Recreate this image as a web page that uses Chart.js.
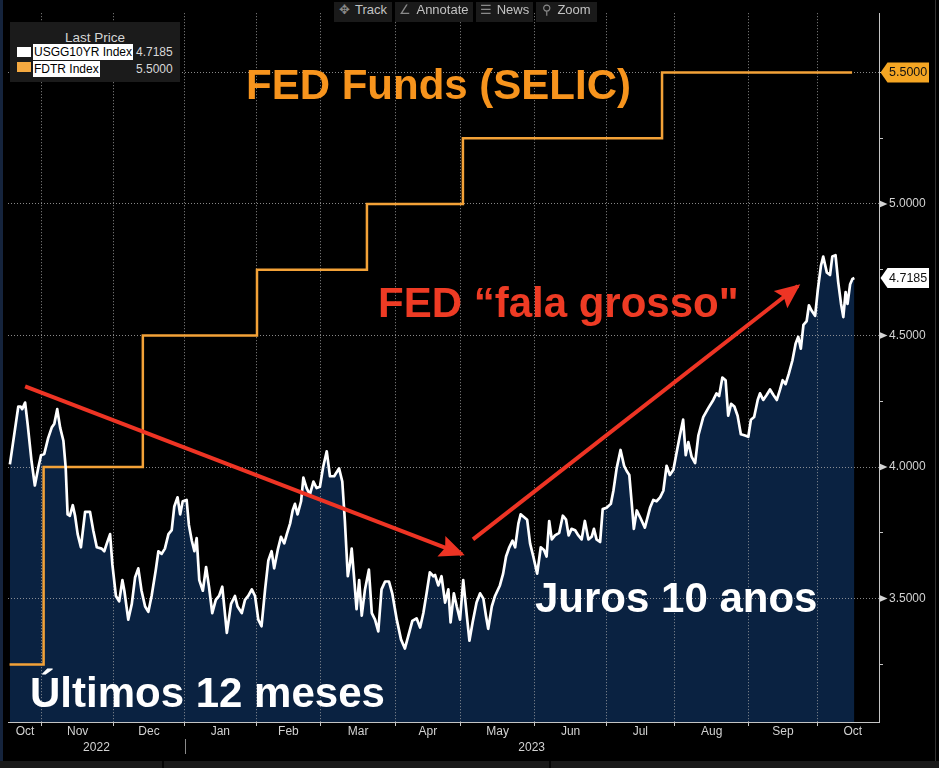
<!DOCTYPE html>
<html>
<head>
<meta charset="utf-8">
<script src="https://cdn.jsdelivr.net/npm/chart.js@4/dist/chart.umd.min.js"></script>
<style>
html,body{margin:0;padding:0;background:#000;width:939px;height:768px;overflow:hidden;}
#wrap{position:relative;width:939px;height:768px;background:#000;}
#c{position:absolute;left:0;top:0;width:939px;height:768px;}
.ann{position:absolute;font-family:"Liberation Sans",Arial,Helvetica,sans-serif;font-weight:bold;font-size:42px;line-height:42px;white-space:nowrap;}
.tb{position:absolute;top:2px;height:20px;line-height:20px;background:#1a1a1a;color:#c2c2c2;font:13px "Liberation Sans",Arial,sans-serif;text-align:center;white-space:nowrap;}
.tb i{font-style:normal;color:#8a8a8a;margin-right:5px;}
#legend{position:absolute;left:10px;top:22px;width:170px;height:60px;background:#1b1b1b;font-family:"Liberation Sans",Arial,sans-serif;}
#legend .t{position:absolute;left:0;width:170px;top:8px;text-align:center;font-size:13.5px;color:#d6d6d6;line-height:16px;}
#legend .sq{position:absolute;left:7px;width:14px;height:10px;}
#legend .lb{position:absolute;left:23px;height:16px;line-height:16px;background:#fff;color:#000;font-size:12px;padding:0 1px;}
#legend .v{position:absolute;left:126px;height:16px;line-height:16px;color:#d8d8d8;font-size:12px;}
</style>
</head>
<body>
<div id="wrap">
<canvas id="c" width="939" height="768"></canvas>

<div style="position:absolute;left:0;top:0;width:3px;height:768px;background:#15243d;"></div>
<div style="position:absolute;left:935px;top:0;width:1px;height:761px;background:#333;"></div>
<div style="position:absolute;left:0;top:761px;width:939px;height:7px;background:#1a1a1a;"></div>
<div style="position:absolute;left:162px;top:761px;width:2px;height:7px;background:#050505;"></div>
<div style="position:absolute;left:549px;top:761px;width:2px;height:7px;background:#050505;"></div>

<div class="tb" style="left:334px;width:58px;"><i>✥</i>Track</div>
<div class="tb" style="left:395px;width:78px;"><i>∠</i>Annotate</div>
<div class="tb" style="left:476px;width:57px;"><i>☰</i>News</div>
<div class="tb" style="left:536px;width:61px;"><i>⚲</i>Zoom</div>

<div id="legend">
  <div class="t">Last Price</div>
  <div class="sq" style="top:25px;background:#ffffff;"></div>
  <div class="lb" style="top:22px;">USGG10YR Index</div>
  <div class="v" style="top:22px;">4.7185</div>
  <div class="sq" style="top:40px;background:#f5a940;"></div>
  <div class="lb" style="top:39px;">FDTR Index</div>
  <div class="v" style="top:39px;">5.5000</div>
</div>

<div class="ann" style="left:246px;top:64px;color:#f7941d;">FED Funds (SELIC)</div>
<div class="ann" style="left:378px;top:282px;color:#ee3b24;">FED “fala grosso"</div>
<div class="ann" style="left:535px;top:577px;color:#ffffff;">Juros 10 anos</div>
<div class="ann" style="left:30px;top:672px;color:#ffffff;">Últimos 12 meses</div>
</div>

<script>
// ---- data (x = trading-day index, 0 = 18 Oct 2022) ----
const usDays = [
  0.1,2.7,3.4,3.9,4.8,5.6,6.8,7.8,8.9,9.7,
  10.7,11.9,13.0,13.8,14.7,15.6,16.6,17.3,17.9,18.6,
  19.5,20.2,21.0,22.0,23.3,24.8,25.8,26.9,28.4,29.2,
  30.0,31.0,31.7,32.8,33.8,34.8,35.4,36.6,37.7,38.7,
  39.7,40.7,41.8,42.8,43.8,45.1,45.9,46.9,47.9,49.0,
  50.0,50.8,51.8,52.6,53.4,54.6,55.3,56.2,57.0,57.7,
  58.5,59.6,60.6,61.5,62.5,63.6,64.6,65.6,67.0,68.3,
  69.5,70.3,71.6,72.6,73.6,74.7,75.7,76.7,77.7,78.8,
  79.8,80.8,81.6,82.7,83.7,84.7,85.5,86.5,87.3,88.0,
  88.8,89.9,90.6,91.6,92.6,93.7,94.7,95.7,96.7,97.8,
  98.8,100.1,101.6,102.6,103.4,104.3,105.0,105.5,106.3,107.0,
  107.8,108.6,109.6,110.8,111.7,112.7,113.7,114.7,115.8,117.0,
  118.0,119.4,120.7,121.9,123.0,124.2,125.5,126.6,127.6,128.6,
  129.6,130.7,131.2,132.2,133.2,134.3,135.3,136.0,137.0,137.9,
  138.9,139.9,141.0,141.8,142.8,144.0,145.1,146.1,146.9,147.6,
  148.7,149.7,151.2,152.2,153.1,154.1,155.1,155.9,156.9,157.6,
  158.6,159.6,160.5,161.5,162.7,163.8,164.8,165.6,166.4,167.2,
  168.2,169.5,170.6,171.6,172.4,173.3,174.4,175.4,176.4,177.4,
  178.5,179.5,180.2,181.0,182.1,182.9,184.1,185.4,186.2,187.2,
  188.4,189.5,190.3,191.1,191.8,192.5,193.4,194.4,195.9,197.5,
  198.5,199.5,200.6,201.6,202.6,203.6,204.7,205.7,206.7,207.7,
  208.5,209.3,210.3,211.4,212.4,213.9,215.5,217.0,218.0,218.8,
  219.8,220.8,221.6,222.5,223.5,224.5,225.5,226.8,227.8,228.6,
  229.6,230.7,231.4,232.4,233.5,234.5,235.5,236.6,237.6,238.4,
  239.3,240.3,241.4,242.4,243.2,244.0,244.8,245.8,246.5,247.3,
  248.4,249.2,250.2,250.9,252.0,253.0,253.7,254.7,255.5,256.4,
  257.1,257.8,258.4,259.2,259.9,260.5
];
const usValues = [
  4.01,4.23,4.23,4.22,4.245,4.16,4.02,3.93,4.00,4.045,
  4.05,4.11,4.15,4.165,4.22,4.15,4.10,4.00,3.82,3.815,
  3.855,3.815,3.745,3.695,3.83,3.83,3.76,3.695,3.69,3.68,
  3.71,3.745,3.63,3.51,3.49,3.57,3.53,3.42,3.48,3.58,
  3.615,3.53,3.47,3.45,3.51,3.61,3.68,3.67,3.69,3.745,
  3.76,3.85,3.885,3.82,3.87,3.875,3.78,3.72,3.68,3.73,
  3.57,3.53,3.62,3.545,3.445,3.495,3.51,3.545,3.37,3.48,
  3.51,3.47,3.445,3.495,3.51,3.535,3.51,3.42,3.395,3.535,
  3.645,3.68,3.615,3.685,3.735,3.71,3.745,3.785,3.835,3.86,
  3.82,3.87,3.96,3.92,3.895,3.945,3.92,3.925,4.00,4.06,
  3.965,3.965,3.995,3.945,3.795,3.585,3.635,3.69,3.57,3.46,
  3.57,3.435,3.535,3.61,3.445,3.42,3.375,3.535,3.565,3.565,
  3.52,3.42,3.345,3.31,3.36,3.415,3.425,3.39,3.445,3.52,
  3.60,3.585,3.59,3.55,3.585,3.485,3.535,3.41,3.52,3.47,
  3.42,3.57,3.435,3.34,3.41,3.485,3.52,3.50,3.435,3.385,
  3.47,3.51,3.55,3.595,3.66,3.695,3.72,3.695,3.785,3.82,
  3.81,3.80,3.71,3.66,3.595,3.695,3.685,3.66,3.795,3.725,
  3.74,3.75,3.815,3.80,3.74,3.765,3.76,3.74,3.725,3.795,
  3.725,3.735,3.765,3.725,3.715,3.84,3.845,3.86,3.91,3.995,
  4.065,4.005,3.985,3.97,3.87,3.765,3.835,3.81,3.77,3.845,
  3.875,3.87,3.885,3.91,4.005,3.97,3.99,4.055,4.12,4.18,
  4.045,4.095,4.04,4.015,4.12,4.19,4.225,4.255,4.28,4.27,
  4.34,4.33,4.195,4.24,4.23,4.195,4.125,4.12,4.115,4.18,
  4.19,4.255,4.28,4.255,4.275,4.295,4.275,4.255,4.295,4.33,
  4.315,4.355,4.405,4.47,4.495,4.45,4.54,4.555,4.615,4.595,
  4.575,4.67,4.765,4.80,4.74,4.73,4.80,4.805,4.705,4.62,
  4.57,4.665,4.62,4.695,4.715,4.7185
];
const fedDays   = [0, 10.5, 41.1, 76.3, 110.2, 139.8, 201.2, 259.8];
const fedValues = [3.25, 4.00, 4.50, 4.75, 5.00, 5.25, 5.50, 5.50];

const arrowDownDays   = [4.8, 139.5];
const arrowDownValues = [4.307, 3.669];
const arrowUpDays     = [142.9, 243.1];
const arrowUpValues   = [3.725, 4.688];

const monthBounds = [10, 32, 54, 76, 96, 119, 139, 162, 184, 205, 228, 249];
const monthTicks  = [4.8, 21, 43, 65, 86, 107.5, 129, 150.5, 173, 194.5, 216.5, 238.5, 260];
const monthLabels = ['Oct','Nov','Dec','Jan','Feb','Mar','Apr','May','Jun','Jul','Aug','Sep','Oct'];
const yearTicks   = [26.8, 161];
const yearLabels  = ['2022','2023'];
const yearBreak   = 54;
const yTicks      = [3.25, 3.5, 3.75, 4.0, 4.25, 4.5, 4.75, 5.0, 5.25, 5.5];
const yLabelled   = [3.5, 4.0, 4.5, 5.0];
const yGridded    = [3.5, 4.0, 4.5, 5.0, 5.5];

// ---- styling ----
const XMIN = -0.48, XMAX = 268.1, YMIN = 3.031, YMAX = 5.725;
const FONT = '"Liberation Sans", Arial, sans-serif';
const GRID = 'rgba(170,170,170,0.8)';
const AXIS = '#c4c4c4';
const RED = '#ee3424';
const ORANGE = '#f3a238';

Chart.defaults.font.family = FONT;

const pts = (xs, ys) => xs.map((x, i) => ({x: x, y: ys[i]}));

const overlay = {
  id: 'overlay',
  afterDatasetsDraw(chart) {
    const ctx = chart.ctx;
    chart.data.datasets.forEach((ds, i) => {
      if (!ds.arrowHead) return;
      const d = chart.getDatasetMeta(i).data;
      const a = d[d.length - 2], b = d[d.length - 1];
      const ang = Math.atan2(b.y - a.y, b.x - a.x);
      const c = Math.cos(ang), s = Math.sin(ang);
      const L = 25, W = 11;
      const tx = b.x + c * 3, ty = b.y + s * 3;
      const bx = tx - c * L, by = ty - s * L;
      ctx.save();
      ctx.fillStyle = ds.borderColor;
      ctx.beginPath();
      ctx.moveTo(tx, ty);
      ctx.lineTo(bx - s * W, by + c * W);
      ctx.lineTo(bx + c * 4, by + s * 4);
      ctx.lineTo(bx + s * W, by - c * W);
      ctx.closePath();
      ctx.fill();
      ctx.restore();
    });
  },
  afterDraw(chart) {
    const ctx = chart.ctx;
    const ys = chart.scales.y, xs = chart.scales.x;
    const ax = Math.round(ys.left) + 0.5;
    ctx.save();
    ctx.fillStyle = '#d4d4d4';
    yLabelled.forEach(v => {
      const y = ys.getPixelForValue(v);
      ctx.beginPath();
      ctx.moveTo(ax, y - 3.5);
      ctx.lineTo(ax + 8, y);
      ctx.lineTo(ax, y + 3.5);
      ctx.closePath();
      ctx.fill();
    });
    const sx = Math.round(xs.getPixelForValue(yearBreak)) + 0.5;
    ctx.strokeStyle = '#8a8a8a';
    ctx.lineWidth = 1;
    ctx.beginPath();
    ctx.moveTo(sx, 739);
    ctx.lineTo(sx, 754);
    ctx.stroke();
    const badge = (val, bg, fg) => {
      const y = ys.getPixelForValue(val);
      ctx.fillStyle = bg;
      ctx.beginPath();
      ctx.moveTo(ax + 1, y);
      ctx.lineTo(ax + 8, y - 10);
      ctx.lineTo(929, y - 10);
      ctx.lineTo(929, y + 10);
      ctx.lineTo(ax + 8, y + 10);
      ctx.closePath();
      ctx.fill();
      ctx.fillStyle = fg;
      ctx.font = '12.5px ' + FONT;
      ctx.textBaseline = 'middle';
      ctx.textAlign = 'left';
      ctx.fillText(val.toFixed(4), 889, y + 0.5);
    };
    badge(fedValues[fedValues.length - 1], '#f5a623', '#111');
    badge(usValues[usValues.length - 1], '#ffffff', '#111');
    ctx.restore();
  }
};

new Chart(document.getElementById('c'), {
  type: 'line',
  data: {
    datasets: [
      {label: 'arrowDown', data: pts(arrowDownDays, arrowDownValues), borderColor: RED, borderWidth: 4,
       pointRadius: 0, fill: false, tension: 0, arrowHead: true, xAxisID: 'x', yAxisID: 'y'},
      {label: 'arrowUp', data: pts(arrowUpDays, arrowUpValues), borderColor: RED, borderWidth: 4,
       pointRadius: 0, fill: false, tension: 0, arrowHead: true, xAxisID: 'x', yAxisID: 'y'},
      {label: 'USGG10YR Index', data: pts(usDays, usValues), borderColor: '#ffffff', borderWidth: 2.7,
       pointRadius: 0, tension: 0, borderJoinStyle: 'round', fill: 'start', backgroundColor: '#0a2241',
       xAxisID: 'x', yAxisID: 'y'},
      {label: 'FDTR Index', data: pts(fedDays, fedValues), borderColor: ORANGE, borderWidth: 2.5,
       pointRadius: 0, stepped: true, fill: false, xAxisID: 'x', yAxisID: 'y'}
    ]
  },
  options: {
    responsive: false,
    animation: false,
    devicePixelRatio: 1,
    layout: {padding: {left: 8, right: 0, top: 0, bottom: 0}},
    plugins: {
      legend: {display: false},
      tooltip: {enabled: false},
      filler: {drawTime: 'beforeDraw', propagate: false}
    },
    scales: {
      x: {
        type: 'linear', position: 'bottom', min: XMIN, max: XMAX, bounds: 'data', weight: 0,
        afterBuildTicks: s => { s.ticks = monthBounds.map(v => ({value: v})); },
        afterFit: s => { s.height = 0; },
        ticks: {display: false, autoSkip: false},
        grid: {color: GRID, lineWidth: 1, drawTicks: true, tickLength: 4, tickColor: AXIS, tickWidth: 1, tickBorderDash: []},
        border: {display: true, color: AXIS, width: 1, dash: [1, 2]}
      },
      xm: {
        type: 'linear', position: 'bottom', min: XMIN, max: XMAX, bounds: 'data', weight: 1,
        afterBuildTicks: s => { s.ticks = monthTicks.map(v => ({value: v})); },
        afterFit: s => { s.height = 18; },
        ticks: {autoSkip: false, maxRotation: 0, padding: 2, color: '#d2d2d2', font: {size: 12},
                callback: (v, i) => monthLabels[i]},
        grid: {display: false, drawTicks: false},
        border: {display: false}
      },
      xy: {
        type: 'linear', position: 'bottom', min: XMIN, max: XMAX, bounds: 'data', weight: 2,
        afterBuildTicks: s => { s.ticks = yearTicks.map(v => ({value: v})); },
        afterFit: s => { s.height = 28; },
        ticks: {autoSkip: false, maxRotation: 0, padding: 0, color: '#d2d2d2', font: {size: 12},
                callback: (v, i) => yearLabels[i]},
        grid: {display: false, drawTicks: false},
        border: {display: false}
      },
      y: {
        type: 'linear', position: 'right', min: YMIN, max: YMAX, bounds: 'data',
        afterBuildTicks: s => { s.ticks = yTicks.map(v => ({value: v})); },
        afterFit: s => { s.width = 60; },
        ticks: {autoSkip: false, padding: 6, color: '#d2d2d2', font: {size: 12},
                callback: v => yLabelled.includes(v) ? v.toFixed(4) : ''},
        grid: {
          color: c => (c.tick && yGridded.includes(c.tick.value)) ? GRID : 'rgba(0,0,0,0)',
          lineWidth: 1, drawTicks: true, tickLength: 4, tickColor: AXIS, tickBorderDash: []
        },
        border: {display: true, color: AXIS, width: 1, dash: [1, 2]}
      }
    }
  },
  plugins: [overlay]
});
</script>
</body>
</html>
